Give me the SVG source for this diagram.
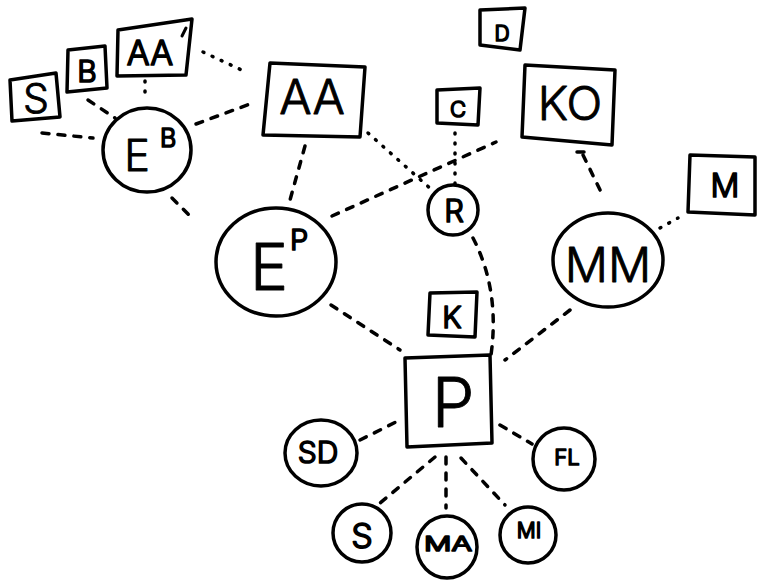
<svg xmlns="http://www.w3.org/2000/svg" width="758" height="580" viewBox="0 0 758 580">
  <style>
    .shape { fill: #fff; stroke: #000; stroke-width: 3.5; stroke-linejoin: round; stroke-linecap: round; }
    .lbl { font-family: "Inter", "Open Sans", "Liberation Sans", sans-serif; font-weight: 300; fill: #000; stroke: #000; stroke-width: 0.9; stroke-linejoin: round; text-anchor: middle; }
    .lbl.sm { stroke-width: 1.7; }
    .dash { fill: none; stroke: #000; stroke-width: 3.5; stroke-linecap: round; stroke-dasharray: 7 9; }
    .dot { fill: none; stroke: #000; stroke-width: 3.5; stroke-linecap: round; stroke-dasharray: 1 9; }
  </style>
  <rect width="758" height="580" fill="#fff"/>

  <!-- connectors -->
  <g id="connectors">
    <path class="dash" d="M42,133 L93,138"/>
    <path class="dash" d="M88,100 L115,118"/>
    <path class="dot" d="M145,81 L145,97"/>
    <path class="dot" d="M203,52 L248,73"/>
    <path class="dash" d="M196,124 L250,104"/>
    <path class="dash" d="M172,198 L192,218"/>
    <path class="dash" d="M305,146 L290,200"/>
    <path class="dot" d="M368,133 L432,190"/>
    <path class="dot" d="M455,133 L455,185"/>
    <path class="dash" d="M332,216 L496,142"/>
    <path class="dash" d="M583,155 L603,196"/>
    <path class="dash" d="M577,152 L584,152"/>
    <path class="dot" d="M660,228 L678,218"/>
    <path class="dash" d="M570,310 L505,360"/>
    <path class="dash" d="M331,305 L400,350"/>
    <path class="dash" d="M473,238 Q500,290 491,355"/>
    <path class="dash" d="M360,440 L400,420"/>
    <path class="dash" d="M500,425 L532,444"/>
    <path class="dash" d="M435,457 L380,503"/>
    <path class="dash" d="M446,457 L446,508"/>
    <path class="dash" d="M461,458 L505,505"/>
  </g>

  <g id="node-S-box">
    <polygon class="shape" points="10,80 56,73 60,117 12,121"/>
    <text class="lbl" x="36" y="113" font-size="41">S</text>
  </g>
  <g id="node-B-box">
    <polygon class="shape" points="68,50 105,46 107,88 67,92"/>
    <text class="lbl sm" x="87" y="82" font-size="30">B</text>
  </g>
  <g id="node-AA-prime">
    <polygon class="shape" points="118,30 192,19 186,75 117,76"/>
    <text class="lbl sm" x="150" y="65" font-size="34">AA</text>
    <path d="M186,28 L182,36" stroke="#000" stroke-width="3" stroke-linecap="round"/>
  </g>
  <g id="node-EB">
    <ellipse class="shape" cx="147" cy="150" rx="44" ry="42"/>
    <text class="lbl" x="137" y="171" font-size="43">E</text>
    <text class="lbl sm" x="168" y="147" font-size="25">B</text>
  </g>
  <g id="node-AA">
    <polygon class="shape" points="270,63 365,67 360,137 263,135"/>
    <text class="lbl" x="312" y="114" font-size="48">AA</text>
  </g>
  <g id="node-D">
    <polygon class="shape" points="480,10 525,8 520,50 480,45"/>
    <text class="lbl sm" x="502" y="41" font-size="21" stroke-width="2.2">D</text>
  </g>
  <g id="node-C">
    <polygon class="shape" points="437,90 480,88 478,125 437,123"/>
    <text class="lbl sm" x="458" y="117" font-size="22" stroke-width="2.2">C</text>
  </g>
  <g id="node-KO">
    <polygon class="shape" points="525,65 615,70 612,145 522,137"/>
    <text class="lbl" x="570" y="120" font-size="47">KO</text>
  </g>
  <g id="node-M">
    <polygon class="shape" points="690,155 755,157 755,215 688,212"/>
    <text class="lbl sm" x="725" y="197" font-size="32">M</text>
  </g>
  <g id="node-MM">
    <ellipse class="shape" cx="608" cy="260" rx="55" ry="47"/>
    <text class="lbl" x="608" y="282" font-size="48">MM</text>
  </g>
  <g id="node-R">
    <circle class="shape" cx="453" cy="210" r="25"/>
    <text class="lbl sm" x="454" y="222" font-size="31">R</text>
  </g>
  <g id="node-EP">
    <ellipse class="shape" cx="276" cy="262" rx="60" ry="54"/>
    <text class="lbl" x="269" y="290" font-size="64">E</text>
    <text class="lbl sm" x="299" y="250" font-size="29">P</text>
  </g>
  <g id="node-K">
    <polygon class="shape" points="430,293 477,292 475,337 428,335"/>
    <text class="lbl sm" x="452" y="328" font-size="30">K</text>
  </g>
  <g id="node-P">
    <polygon class="shape" points="405,358 490,355 492,443 407,447"/>
    <text class="lbl" x="453" y="427" font-size="68">P</text>
  </g>
  <g id="node-SD">
    <ellipse class="shape" cx="321" cy="453" rx="36" ry="33"/>
    <text class="lbl sm" x="318" y="463" font-size="30">SD</text>
  </g>
  <g id="node-FL">
    <circle class="shape" cx="564" cy="459" r="31"/>
    <text class="lbl sm" x="567" y="465" font-size="22">FL</text>
  </g>
  <g id="node-S">
    <circle class="shape" cx="362" cy="533" r="29"/>
    <text class="lbl sm" x="362" y="548" font-size="34">S</text>
  </g>
  <g id="node-MA">
    <ellipse class="shape" cx="447" cy="547" rx="30" ry="31"/>
    <text class="lbl sm" x="448" y="551" font-size="20" textLength="48" lengthAdjust="spacingAndGlyphs">MA</text>
  </g>
  <g id="node-MI">
    <circle class="shape" cx="528" cy="535" r="28"/>
    <text class="lbl sm" x="529" y="538" font-size="21">MI</text>
  </g>
</svg>
